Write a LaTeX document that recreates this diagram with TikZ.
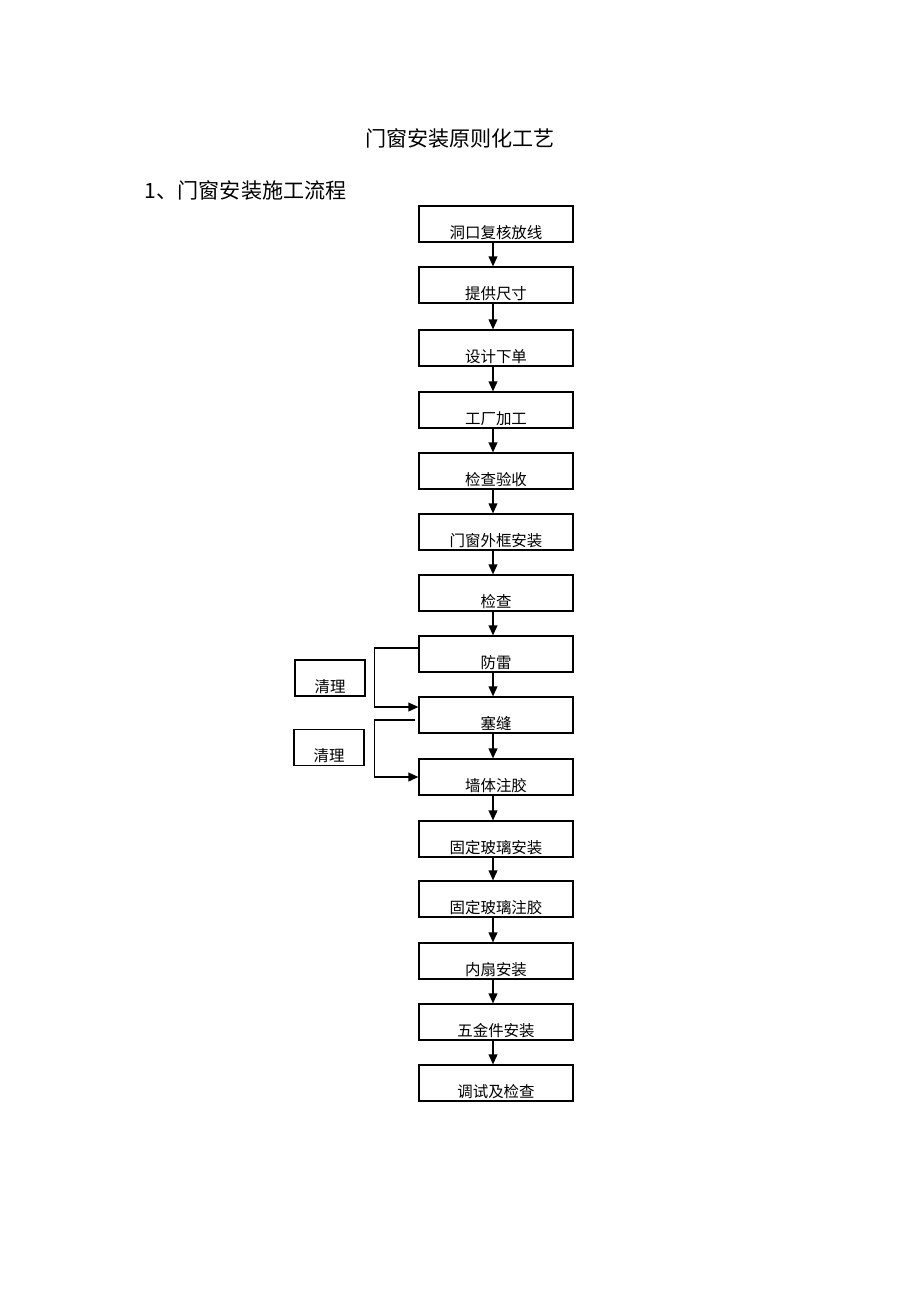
\documentclass[tikz,border=0pt]{standalone}
\usepackage{fontspec}
\newfontfamily\cjk{Noto Sans CJK SC}
\usetikzlibrary{arrows.meta}
\begin{document}
\begin{tikzpicture}[
  stepbox/.style={draw, line width=0.03cm, minimum width=3.85cm, minimum height=0.9cm,
    text height=0.75cm, text depth=0.05cm, inner ysep=0.05cm, inner xsep=0cm,
    font=\cjk\fontsize{11}{13}\selectfont},
  notebox/.style={stepbox, minimum width=1.75cm},
  flow/.style={line width=0.035cm, -{Triangle[length=0.25cm,width=0.22cm]}},
  headline/.style={font=\cjk\fontsize{15}{18}\selectfont}
]
% \clip (0,0) rectangle (23.000000,-32.550000);
\useasboundingbox (0,0) rectangle (23.000000,-32.550000);%

% Writing the title
\node [headline] (title) at (11.500000,-3.450000) {门窗安装原则化工艺};%
\node [headline, anchor=west] (subtitle) at (3.500000,-4.750000) {1、门窗安装施工流程};%

% Drawing step boxes
\node [stepbox] (b1) at (12.400000,-5.600000) {洞口复核放线};%
\node [stepbox] (b2) at (12.400000,-7.125000) {提供尺寸};%
\node [stepbox] (b3) at (12.400000,-8.700000) {设计下单};%
\node [stepbox] (b4) at (12.400000,-10.250000) {工厂加工};%
\node [stepbox] (b5) at (12.400000,-11.775000) {检查验收};%
\node [stepbox] (b6) at (12.400000,-13.300000) {门窗外框安装};%
\node [stepbox] (b7) at (12.400000,-14.825000) {检查};%
\node [stepbox] (b8) at (12.400000,-16.350000) {防雷};%
\node [stepbox] (b9) at (12.400000,-17.875000) {塞缝};%
\node [stepbox] (b10) at (12.400000,-19.425000) {墙体注胶};%
\node [stepbox] (b11) at (12.400000,-20.975000) {固定玻璃安装};%
\node [stepbox] (b12) at (12.400000,-22.475000) {固定玻璃注胶};%
\node [stepbox] (b13) at (12.400000,-24.025000) {内扇安装};%
\node [stepbox] (b14) at (12.400000,-25.550000) {五金件安装};%
\node [stepbox] (b15) at (12.400000,-27.075000) {调试及检查};%

% Drawing side boxes
\node [notebox] (n1) at (8.250000,-16.950000) {清理};%
\node [notebox] (n2) at (8.225000,-18.690000) {清理};%

% Drawing arrows down the column
\draw [flow] ([xshift=-0.075cm]b1.south) -- ([xshift=-0.075cm]b2.north);%
\draw [flow] ([xshift=-0.075cm]b2.south) -- ([xshift=-0.075cm]b3.north);%
\draw [flow] ([xshift=-0.075cm]b3.south) -- ([xshift=-0.075cm]b4.north);%
\draw [flow] ([xshift=-0.075cm]b4.south) -- ([xshift=-0.075cm]b5.north);%
\draw [flow] ([xshift=-0.075cm]b5.south) -- ([xshift=-0.075cm]b6.north);%
\draw [flow] ([xshift=-0.075cm]b6.south) -- ([xshift=-0.075cm]b7.north);%
\draw [flow] ([xshift=-0.075cm]b7.south) -- ([xshift=-0.075cm]b8.north);%
\draw [flow] ([xshift=-0.075cm]b8.south) -- ([xshift=-0.075cm]b9.north);%
\draw [flow] ([xshift=-0.075cm]b9.south) -- ([xshift=-0.075cm]b10.north);%
\draw [flow] ([xshift=-0.075cm]b10.south) -- ([xshift=-0.075cm]b11.north);%
\draw [flow] ([xshift=-0.075cm]b11.south) -- ([xshift=-0.075cm]b12.north);%
\draw [flow] ([xshift=-0.075cm]b12.south) -- ([xshift=-0.075cm]b13.north);%
\draw [flow] ([xshift=-0.075cm]b13.south) -- ([xshift=-0.075cm]b14.north);%
\draw [flow] ([xshift=-0.075cm]b14.south) -- ([xshift=-0.075cm]b15.north);%

% Drawing the two loops on the left
\draw [flow] ([yshift=0.150000cm]b8.west) -- ++(-1.100000,0) |- ([yshift=0.200000cm]b9.west);%
\draw [flow] ([xshift=-0.075cm,yshift=-0.125000cm]b9.west) -- ++(-1.025000,0) |- (b10.west);%
\end{tikzpicture}
\end{document}
